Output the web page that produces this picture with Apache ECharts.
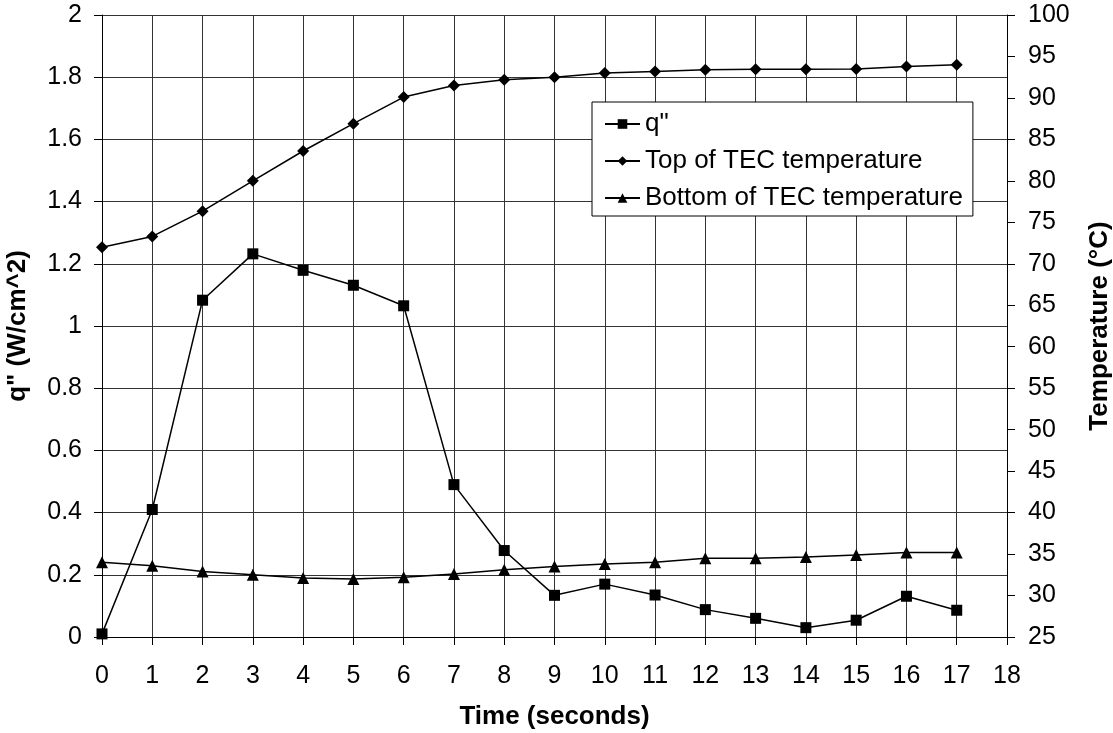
<!DOCTYPE html>
<html>
<head>
<meta charset="utf-8">
<script src="https://cdn.jsdelivr.net/npm/echarts@6/dist/echarts.min.js"></script>
<style>
  html, body { margin: 0; padding: 0; background: #fff; }
  #chart { width: 1113px; height: 733px; }
</style>
</head>
<body>
<div id="chart"></div>
<script>
// time in seconds
const times = [0, 1, 2, 3, 4, 5, 6, 7, 8, 9, 10, 11, 12, 13, 14, 15, 16, 17];
// q" (W/cm^2)
const qFlux = [0.01, 0.41, 1.083, 1.232, 1.179, 1.131, 1.065, 0.49, 0.278, 0.134, 0.17, 0.135, 0.088, 0.06, 0.03, 0.054, 0.131, 0.086];
// Top of TEC temperature (°C)
const topTemp = [72.0, 73.3, 76.35, 80.0, 83.6, 86.9, 90.1, 91.5, 92.2, 92.5, 93.0, 93.2, 93.4, 93.45, 93.45, 93.5, 93.8, 94.0];
// Bottom of TEC temperature (°C)
const bottomTemp = [34.0, 33.6, 32.9, 32.5, 32.1, 32.0, 32.2, 32.6, 33.1, 33.5, 33.8, 34.0, 34.5, 34.5, 34.65, 34.9, 35.2, 35.2];

const pairs = (ys) => times.map((t, i) => [t, ys[i]]);

const font = 'Liberation Sans, Arial, sans-serif';
const axisText = { color: '#000', fontSize: 25, fontFamily: font };
const nameText = { color: '#000', fontSize: 26, fontWeight: 'bold', fontFamily: font };

const chart = echarts.init(document.getElementById('chart'));
const option = {
  animation: false,
  backgroundColor: '#fff',
  grid: { left: 102, right: 106, top: 15, bottom: 96, containLabel: false, outerBoundsMode: 'none' },
  legend: {
    orient: 'vertical',
    left: 592,
    top: 102,
    backgroundColor: '#fff',
    borderColor: '#000',
    borderWidth: 1,
    padding: [9, 10, 5, 12],
    itemGap: 11,
    itemWidth: 35,
    itemHeight: 12,
    textStyle: { color: '#000', fontSize: 26, fontFamily: font },
    data: ['q"', 'Top of TEC temperature', 'Bottom of TEC temperature']
  },
  xAxis: {
    type: 'value',
    min: 0,
    max: 18,
    interval: 1,
    name: 'Time (seconds)',
    nameLocation: 'middle',
    nameGap: 67,
    nameTextStyle: nameText,
    axisLine: { lineStyle: { color: '#000', width: 1 } },
    axisTick: { show: true, length: 8, lineStyle: { color: '#000' } },
    axisLabel: Object.assign({ margin: 27 }, axisText),
    splitLine: { show: true, lineStyle: { color: '#333', width: 1 } }
  },
  yAxis: [
    {
      type: 'value',
      min: 0,
      max: 2,
      interval: 0.2,
      name: 'q" (W/cm^2)',
      nameLocation: 'middle',
      nameGap: 71,
      nameTextStyle: nameText,
      axisLine: { show: true, lineStyle: { color: '#000', width: 1 } },
      axisTick: { show: true, length: 8, lineStyle: { color: '#000' } },
      axisLabel: Object.assign({ margin: 20 }, axisText),
      splitLine: { show: true, lineStyle: { color: '#333', width: 1 } }
    },
    {
      type: 'value',
      min: 25,
      max: 100,
      interval: 5,
      position: 'right',
      name: 'Temperature (°C)',
      nameLocation: 'middle',
      nameGap: 80,
      nameTextStyle: nameText,
      axisLine: { show: true, lineStyle: { color: '#000', width: 1 } },
      axisTick: { show: true, length: 8, lineStyle: { color: '#000' } },
      axisLabel: Object.assign({ margin: 21 }, axisText),
      splitLine: { show: false }
    }
  ],
  series: [
    {
      name: 'q"',
      type: 'line',
      yAxisIndex: 0,
      data: pairs(qFlux),
      symbol: 'rect',
      symbolSize: 11,
      itemStyle: { color: '#000' },
      lineStyle: { color: '#000', width: 1.5 }
    },
    {
      name: 'Top of TEC temperature',
      type: 'line',
      yAxisIndex: 1,
      data: pairs(topTemp),
      symbol: 'diamond',
      symbolSize: 12,
      itemStyle: { color: '#000' },
      lineStyle: { color: '#000', width: 1.5 }
    },
    {
      name: 'Bottom of TEC temperature',
      type: 'line',
      yAxisIndex: 1,
      data: pairs(bottomTemp),
      symbol: 'triangle',
      symbolSize: 12,
      itemStyle: { color: '#000' },
      lineStyle: { color: '#000', width: 1.5 }
    }
  ]
};
chart.setOption(option);
</script>
</body>
</html>
